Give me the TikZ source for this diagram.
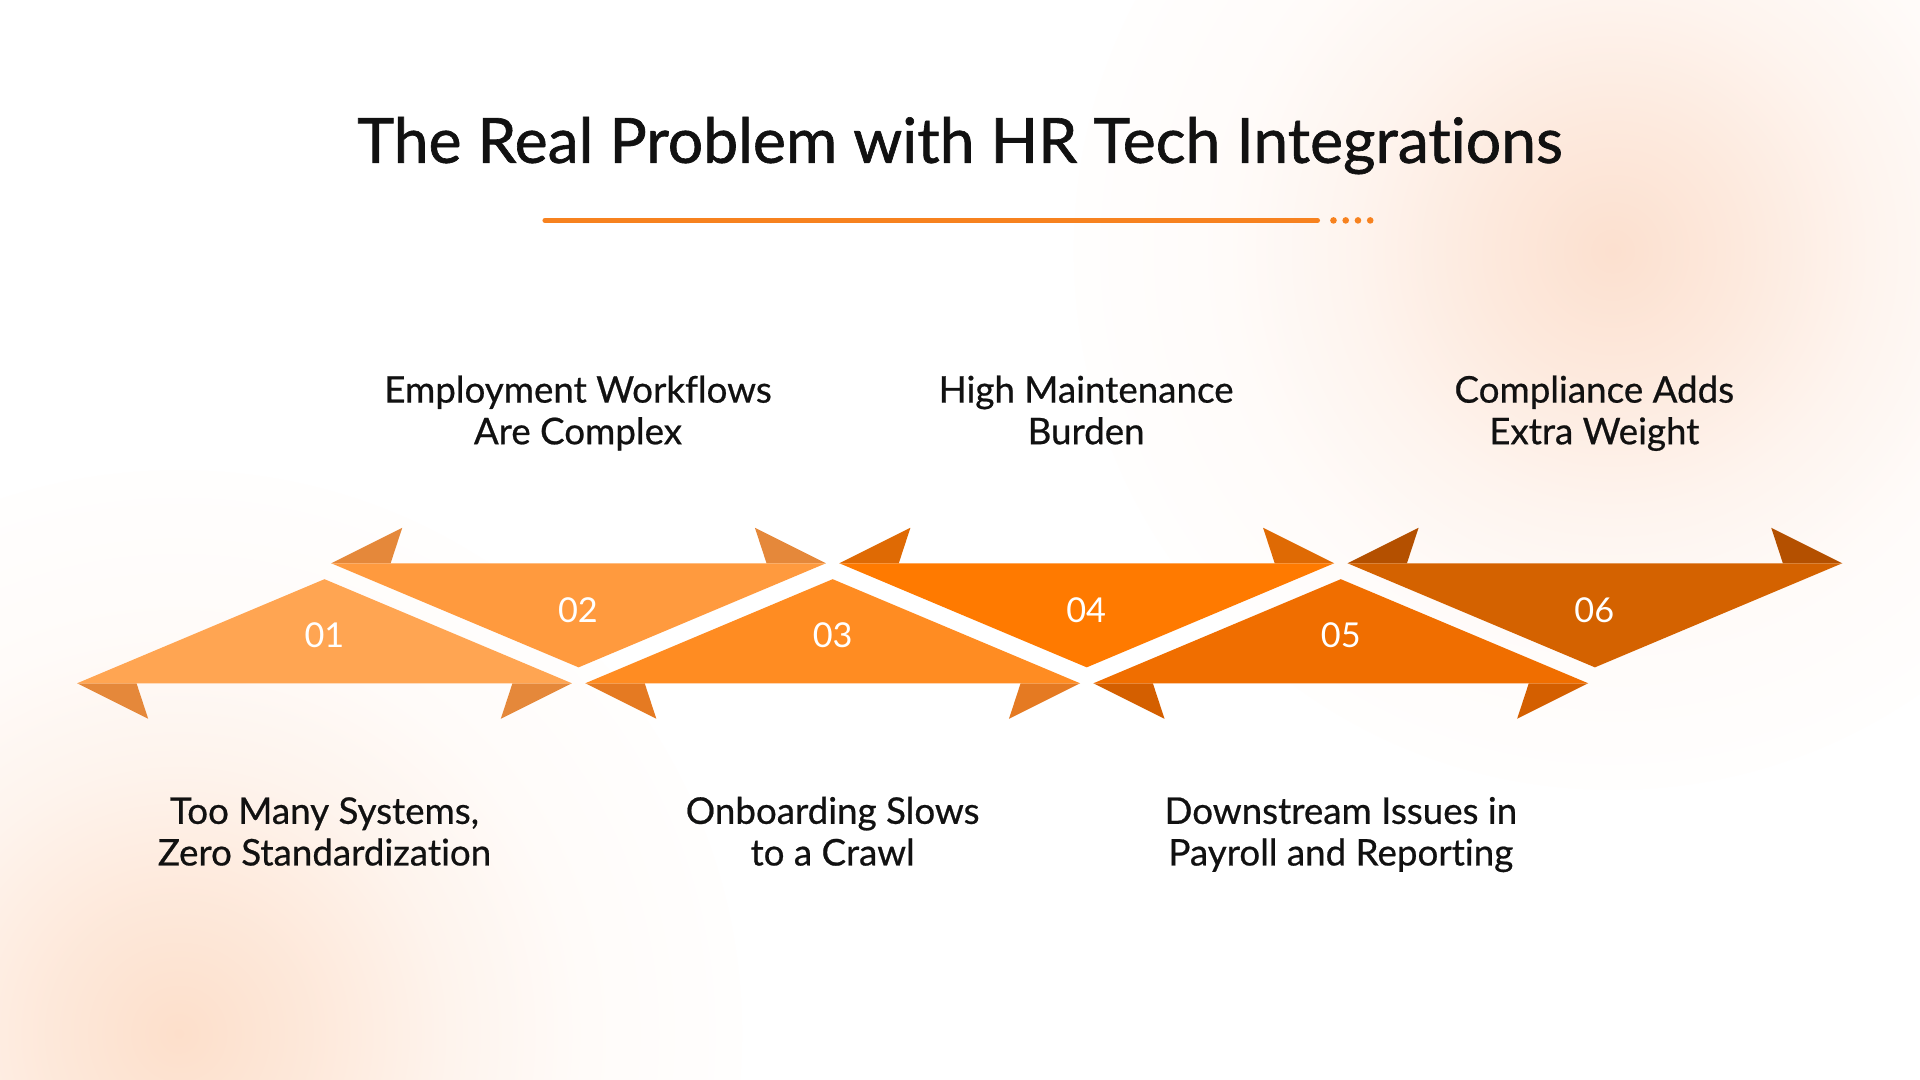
\documentclass[tikz,border=0pt]{standalone}
\usepackage{fontspec}
\setmainfont{Lato}[Ligatures=NoCommon]
\definecolor{lineor}{HTML}{F7821F}
\definecolor{txt}{HTML}{111111}
\definecolor{cA}{HTML}{FFA552}\definecolor{fA}{HTML}{E5883A}
\definecolor{cB}{HTML}{FF9A3E}\definecolor{fB}{HTML}{E5883A}
\definecolor{cC}{HTML}{FF8C22}\definecolor{fC}{HTML}{E57A22}
\definecolor{cD}{HTML}{FF7A00}\definecolor{fD}{HTML}{DF6A04}
\definecolor{cE}{HTML}{F06E00}\definecolor{fE}{HTML}{D45F00}
\definecolor{cF}{HTML}{D46200}\definecolor{fF}{HTML}{B45000}
\pgfdeclareradialshading{glowTR}{\pgfpoint{0bp}{0bp}}{%
  rgb(0bp)=(0.988,0.878,0.812); rgb(6bp)=(0.992,0.915,0.868);
  rgb(12bp)=(0.996,0.957,0.934); rgb(18bp)=(0.999,0.985,0.977);
  rgb(25bp)=(1,0.996,0.994); rgb(50bp)=(1,1,1)}
\pgfdeclareradialshading{glowBL}{\pgfpoint{0bp}{0bp}}{%
  rgb(0bp)=(0.992,0.875,0.796); rgb(6bp)=(0.994,0.912,0.857);
  rgb(12bp)=(0.997,0.956,0.929); rgb(18bp)=(0.999,0.985,0.976);
  rgb(25bp)=(1,0.996,0.994); rgb(50bp)=(1,1,1)}
\tikzset{
  label/.style={font=\fontsize{15pt}{17pt}\selectfont\addfontfeature{FakeBold=0.6}, text=txt, align=center, inner sep=0pt},
  num/.style={font=\fontsize{14pt}{16pt}\selectfont, text=white, inner sep=0pt},
}
\begin{document}
\begin{tikzpicture}[x=0.5pt,y=-0.5pt]
\useasboundingbox (0,0) rectangle (1568,882);
\begin{scope}
\clip (0,0) rectangle (1568,882);
\fill[white] (0,0) rectangle (1568,882);
\shade[shading=glowTR] (1317,205) circle (440);
\shade[shading=glowBL] (146,844) circle (460);
\end{scope}
% title
\node[font=\fontsize{25.5pt}{30pt}\selectfont\addfontfeature{FakeBold=1}, text=txt, anchor=base, inner sep=0pt] (title) at (784,133) {The Real Problem with HR Tech Integrations};
\coordinate (l1) at (445,180);
\coordinate (l2) at (1076,180);
\draw[lineor, line width=2pt, line cap=round] (l1) -- (l2);
\foreach \x [count=\i] in {1089,1099,1109,1119} {
  \fill[lineor] (\x,180) circle (2.7);
}
% flaps (behind)
\foreach \cx/\fc in {265/fA, 680/fC, 1095/fE} {
  \fill[\fc] (\cx-202,558) -- (\cx-144,587) -- (\cx-153.5,558) -- cycle;
  \fill[\fc] (\cx+202,558) -- (\cx+144,587) -- (\cx+153.5,558) -- cycle;
}
\foreach \cx/\fc in {472.5/fB, 887.5/fD, 1302.5/fF} {
  \fill[\fc] (\cx-202,460) -- (\cx-144,431) -- (\cx-153.5,460) -- cycle;
  \fill[\fc] (\cx+202,460) -- (\cx+144,431) -- (\cx+153.5,460) -- cycle;
}
% triangles
\foreach \cx/\cc in {265/cA, 680/cC, 1095/cE} {
  \fill[\cc] (\cx-202,558) -- (\cx,473) -- (\cx+202,558) -- cycle;
}
\foreach \cx/\cc in {472.5/cB, 887.5/cD, 1302.5/cF} {
  \fill[\cc] (\cx-202,460) -- (\cx,545) -- (\cx+202,460) -- cycle;
}
% numbers
\node[num] (n1) at (265,519) {01};
\node[num] (n2) at (472,498) {02};
\node[num] (n3) at (680,519) {03};
\node[num] (n4) at (887,498) {04};
\node[num] (n5) at (1095,519) {05};
\node[num] (n6) at (1302,498) {06};
% labels
\node[label] (t2) at (472,339) {\strut Employment Workflows\\\strut Are Complex};
\node[label] (t4) at (887,339) {\strut High Maintenance\\\strut Burden};
\node[label] (t6) at (1302,339) {\strut Compliance Adds\\\strut Extra Weight};
\node[label] (t1) at (265,683) {\strut Too Many Systems,\\\strut Zero Standardization};
\node[label] (t3) at (680,683) {\strut Onboarding Slows\\\strut to a Crawl};
\node[label] (t5) at (1095,683) {\strut Downstream Issues in\\\strut Payroll and Reporting};
\end{tikzpicture}
\end{document}
